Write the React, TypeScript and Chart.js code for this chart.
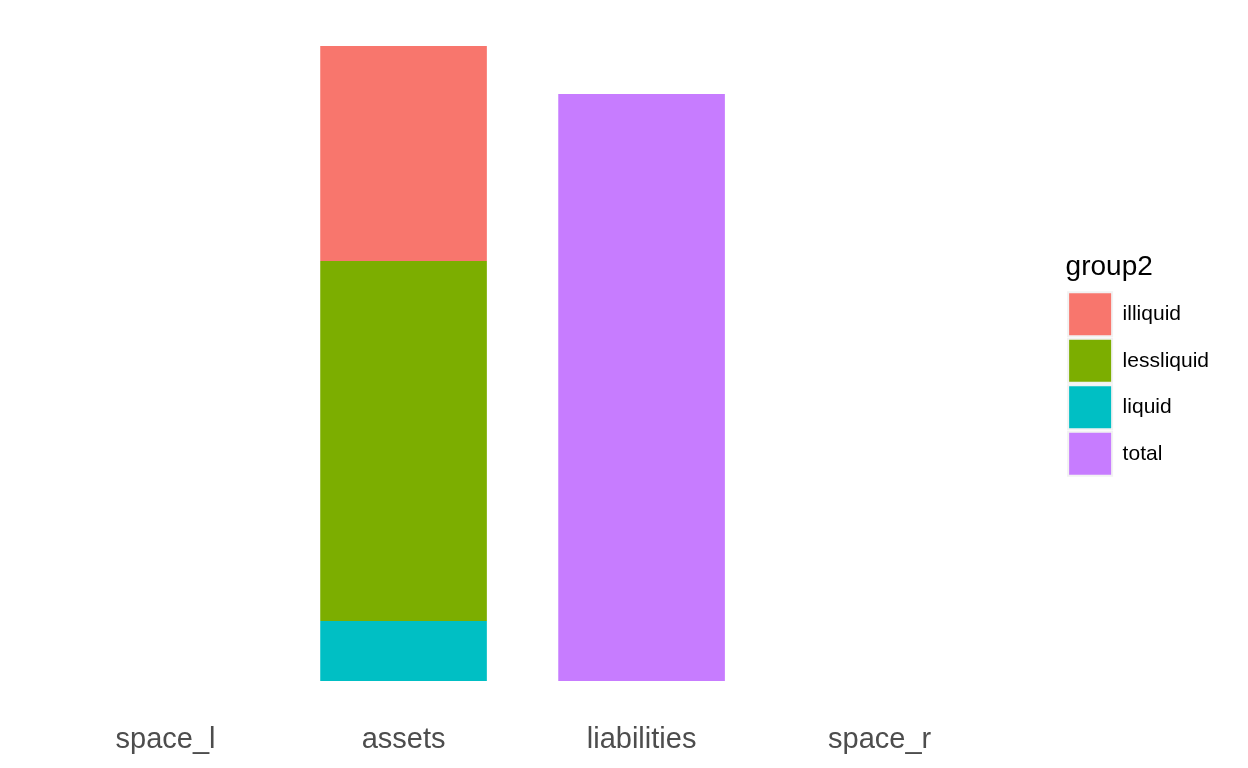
import React, { useEffect, useRef } from "react";
import { Chart, registerables } from "chart.js";

Chart.register(...registerables);

const categories = ["space_l", "assets", "liabilities", "space_r"];
const legendOrder = ["illiquid", "lessliquid", "liquid", "total"];
const illiquid = [null, 215, null, null];
const lessliquid = [null, 360, null, null];
const liquid = [null, 60, null, null];
const total = [null, null, 587, null];
const legendTitle = "group2";

const colors: Record<string, string> = {
  illiquid: "#F8766D",
  lessliquid: "#7CAE00",
  liquid: "#00BFC4",
  total: "#C77CFF",
};

const FONT = "'Liberation Sans', Arial, sans-serif";

export default function App() {
  const ref = useRef<HTMLCanvasElement | null>(null);

  useEffect(() => {
    if (!ref.current) return;
    const yMax = Math.max(
      (liquid[1] as number) + (lessliquid[1] as number) + (illiquid[1] as number),
      total[2] as number
    );
    // ggplot-style 5% expansion of the continuous axis
    const expand = 0.05 * yMax;
    const mk = (label: string, data: (number | null)[]) => ({
      label,
      data,
      backgroundColor: colors[label],
      borderWidth: 0,
      barPercentage: 0.7,
      categoryPercentage: 1,
    });
    const chart = new Chart(ref.current, {
      type: "bar",
      data: {
        labels: categories,
        datasets: [
          mk("liquid", liquid),
          mk("lessliquid", lessliquid),
          mk("illiquid", illiquid),
          mk("total", total),
        ],
      },
      options: {
        responsive: false,
        animation: false,
        events: [],
        layout: { padding: { left: 46.5, top: 14.25, right: 29, bottom: 1.4 } },
        scales: {
          x: {
            stacked: true,
            offset: true,
            grid: { display: false, drawTicks: false },
            border: { display: false },
            ticks: {
              color: "#4D4D4D",
              font: { family: FONT, size: 29 },
              padding: 9.5,
            },
          },
          y: {
            stacked: true,
            position: "right",
            min: -expand,
            max: yMax + expand,
            grid: { display: false, drawTicks: false },
            border: { display: false },
            ticks: { display: false },
            afterFit: (s: any) => {
              s.width = 67;
            },
          },
        },
        plugins: {
          tooltip: { enabled: false },
          legend: {
            position: "right",
            fullSize: false,
            align: "center",
            title: {
              display: true,
              text: legendTitle,
              position: "start",
              color: "#000000",
              font: { family: FONT, size: 28 },
              padding: { top: 4.3, bottom: 3.2 },
            },
            labels: {
              boxWidth: 44,
              boxHeight: 44,
              padding: 2.5,
              color: "#000000",
              font: { family: FONT, size: 21 },
              sort: (a: any, b: any) =>
                legendOrder.indexOf(a.text) - legendOrder.indexOf(b.text),
              generateLabels: (c: any) =>
                Chart.defaults.plugins.legend.labels
                  .generateLabels(c)
                  .map((l: any) => ({ ...l, lineWidth: 2, strokeStyle: "#F2F2F2" })),
            },
          },
        },
      },
    } as any);
    return () => chart.destroy();
  }, []);

  return (
    <div style={{ position: "absolute", left: 0, top: 0, width: 1248, height: 768, background: "#FFFFFF" }}>
      <canvas ref={ref} width={1248} height={768} style={{ display: "block" }} />
    </div>
  );
}
